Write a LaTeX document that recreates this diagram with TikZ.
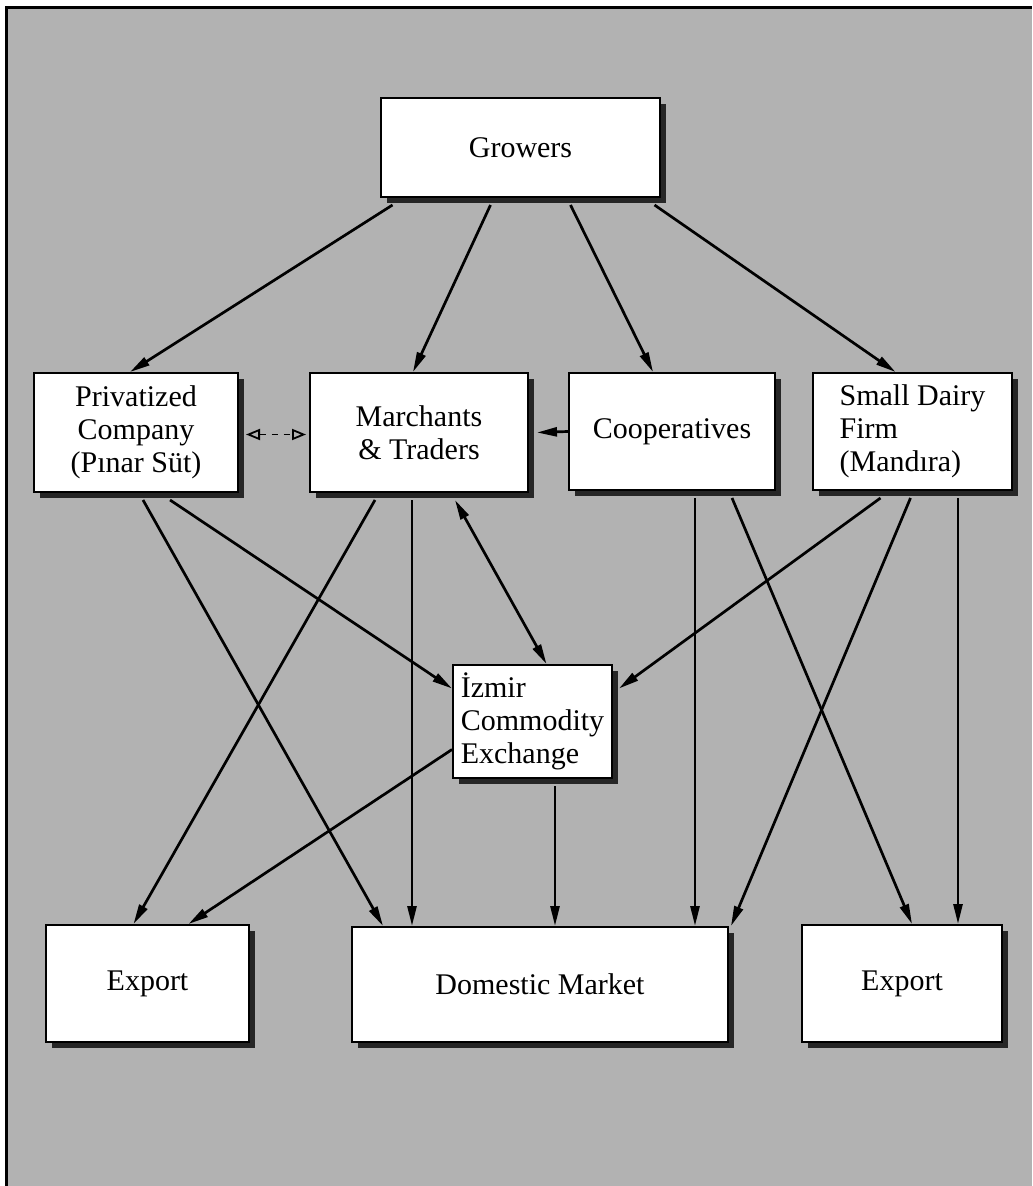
\documentclass[tikz,border=0pt]{standalone}
\usepackage{fontspec}
\setmainfont{Liberation Serif}
\usetikzlibrary{arrows.meta,shadows}
\begin{document}
\begin{tikzpicture}[x=0.5pt,y=-0.5pt,
  box/.style={draw=black, line width=1pt, fill=white, rectangle, inner sep=0pt,
    align=center, font=\fontsize{15}{16.5}\selectfont,
    general shadow={fill=black!85, shadow xshift=3pt, shadow yshift=-3pt}},
  boxl/.style={box, align=left},
  arr/.style={line width=1.35pt, -{Triangle[length=10pt,width=4.5pt]}},
  darr/.style={line width=1.35pt, {Triangle[length=10pt,width=4.5pt]}-{Triangle[length=10pt,width=4.5pt]}},
  dash2/.style={line width=0.9pt, dashed, {Triangle[open,length=7pt,width=5.5pt]}-{Triangle[open,length=7pt,width=5.5pt]}}]
\useasboundingbox (0,0) rectangle (1032,1186);
\fill[black!30] (6,8) rectangle (1032,1186);
\draw[line width=1.5pt] (6,1186) -- (6,8) -- (1032,8);

\node[box, minimum width=139.5pt, minimum height=49.5pt] (gro) at (520.5,147.5) {Growers};
\node[box, minimum width=102pt, minimum height=59.5pt] (pri) at (136,432.5) {Privatized\\Company\\(Pınar Süt)};
\node[box, minimum width=109pt, minimum height=59.5pt] (mar) at (419,432.5) {Marchants\\\& Traders};
\node[box, minimum width=103pt, minimum height=58.5pt] (coo) at (672,431.5) {Cooperatives};
\node[boxl, minimum width=99.5pt, minimum height=58.5pt] (sdf) at (912.5,431.5) {Small Dairy\\Firm\\(Mandıra)};
\node[boxl, minimum width=79.5pt, minimum height=56.5pt] (izm) at (532.5,721.5) {İzmir\\Commodity\\Exchange};
\node[box, minimum width=101.5pt, minimum height=58.5pt] (exl) at (147.5,983.5) {Export};
\node[box, minimum width=188pt, minimum height=57.5pt] (dom) at (540,984.5) {Domestic Market};
\node[box, minimum width=100pt, minimum height=58.5pt] (exr) at (902,983.5) {Export};

% from Growers
\draw[arr] ([shift={(-128,7)}]gro.south) -- ([shift={(-6,0)}]pri.north);
\draw[arr] ([shift={(-30,7)}]gro.south) -- ([shift={(-6,0)}]mar.north);
\draw[arr] ([shift={(50,7)}]gro.south) -- ([shift={(-19,0)}]coo.north);
\draw[arr] ([shift={(134,7)}]gro.south) -- ([shift={(-17,0)}]sdf.north);

% middle row links
\draw[dash2] ([shift={(7,2)}]pri.east) -- ([shift={(-3,2)}]mar.west);
\draw[arr] ([shift={(0,0)}]coo.west) -- ([shift={(8,0)}]mar.east);

% lower links
\draw[arr] ([shift={(7,7)}]pri.south) -- ([shift={(-157,0)}]dom.north);
\draw[arr] ([shift={(34,7)}]pri.south) -- ([shift={(0,-33)}]izm.west);
\draw[arr] ([shift={(-44,7)}]mar.south) -- ([shift={(-14,0)}]exl.north);
\draw[arr] ([shift={(-7,7)}]mar.south) -- ([shift={(-128,0)}]dom.north);
\draw[darr] ([shift={(36,7)}]mar.south) -- ([shift={(14,0)}]izm.north);
\draw[arr] ([shift={(0,28)}]izm.west) -- ([shift={(41,0)}]exl.north);
\draw[arr] ([shift={(22.5,7)}]izm.south) -- ([shift={(15,0)}]dom.north);
\draw[arr] ([shift={(23,7)}]coo.south) -- ([shift={(155,0)}]dom.north);
\draw[arr] ([shift={(60,7)}]coo.south) -- ([shift={(10,0)}]exr.north);
\draw[arr] ([shift={(-32,7)}]sdf.south) -- ([shift={(6,-33)}]izm.east);
\draw[arr] ([shift={(-2,7)}]sdf.south) -- ([shift={(191,0)}]dom.north);
\draw[arr] ([shift={(45.5,7)}]sdf.south) -- ([shift={(56,0)}]exr.north);
\end{tikzpicture}
\end{document}
